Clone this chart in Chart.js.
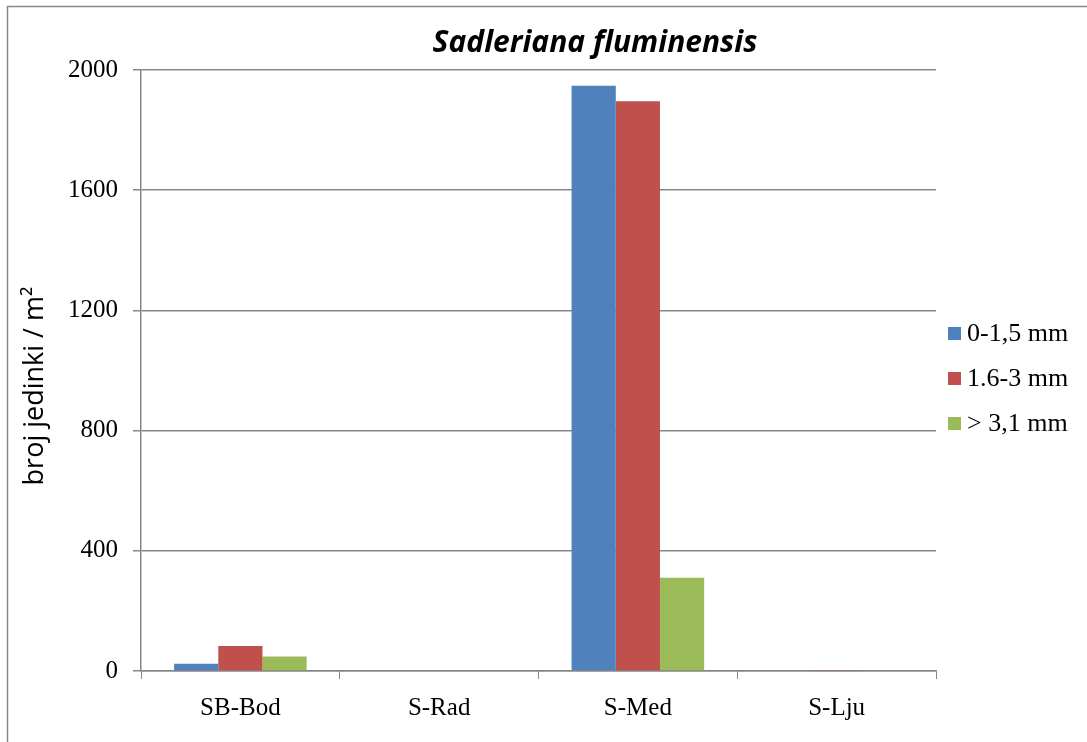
<!DOCTYPE html>
<html lang="hr">
<head>
    <meta charset="UTF-8">
    <title>Sadleriana fluminensis</title>
    <script src="https://cdn.jsdelivr.net/npm/chart.js"></script>
    <style>
        html, body { margin: 0; padding: 0; background: #ffffff; }
        #wrap { width: 1087px; height: 742px; }
    </style>
</head>
<body>
    <div id="wrap">
        <canvas id="barChart" width="1087" height="742"></canvas>
    </div>
<script>
    var chartTitle = 'Sadleriana fluminensis';
    var yTitle = 'broj jedinki / m\u00b2';
    var sites = ['SB-Bod', 'S-Rad', 'S-Med', 'S-Lju'];
    var sizeClasses = ['0-1,5 mm', '1.6-3 mm', '> 3,1 mm'];
    var small = [24, 0, 1948, 0];
    var medium = [83, 0, 1896, 3];
    var large = [48, 0, 310, 0];
    var colors = ['#4F81BD', '#C0504D', '#9BBB59'];
    var yMin = 0, yMax = 2000, yStep = 400;

    var gray = '#868686';

    // frame, italic title, y title and the legend on the right (Excel look)
    var framePlugin = {
        id: 'frame',
        beforeDraw: function (chart) {
            var ctx = chart.ctx;
            ctx.save();
            ctx.fillStyle = '#ffffff';
            ctx.fillRect(0, 0, chart.width, chart.height);
            ctx.strokeStyle = gray;
            ctx.lineWidth = 1.5;
            ctx.strokeRect(7.5, 6.5, chart.width + 20, chart.height + 20);
            ctx.restore();
        },
        afterDraw: function (chart) {
            var ctx = chart.ctx;
            ctx.save();
            ctx.font = 'italic bold 30px "Open Sans"';
            ctx.fillStyle = '#000000';
            ctx.textAlign = 'center';
            ctx.textBaseline = 'alphabetic';
            ctx.fillText(chartTitle, 595, 52);

            // y axis title, a bit below the middle like in Excel
            ctx.save();
            ctx.translate(35, 386);
            ctx.rotate(-Math.PI / 2);
            ctx.font = '27px "Open Sans"';
            ctx.textBaseline = 'middle';
            ctx.fillText(yTitle, 0, 0);
            ctx.restore();

            var area = chart.chartArea;
            var x0 = area.right + 12;
            var yMid = (area.top + area.bottom) / 2 + 8;
            var step = 45;
            var n = chart.data.datasets.length;
            ctx.font = '26px "Liberation Serif"';
            ctx.textAlign = 'left';
            ctx.textBaseline = 'middle';
            chart.data.datasets.forEach(function (ds, i) {
                var cy = yMid + (i - (n - 1) / 2) * step;
                ctx.fillStyle = ds.backgroundColor;
                ctx.fillRect(x0, cy - 6.5, 13, 13);
                ctx.fillStyle = '#000000';
                ctx.fillText(ds.label, x0 + 19, cy + 1);
            });
            ctx.restore();
        }
    };

    var seriesValues = [small, medium, large];
    var datasets = sizeClasses.map(function (name, i) {
        return {
            label: name,
            data: seriesValues[i],
            backgroundColor: colors[i],
            borderWidth: 0,
            categoryPercentage: 0.667,
            barPercentage: 1.0
        };
    });

    new Chart(document.getElementById('barChart').getContext('2d'), {
        type: 'bar',
        data: {
            labels: sites,
            datasets: datasets
        },
        plugins: [framePlugin],
        options: {
            responsive: false,
            animation: false,
            layout: {
                padding: { left: 10, right: 151, top: 70, bottom: 0 }
            },
            scales: {
                x: {
                    grid: {
                        display: true,
                        drawOnChartArea: false,
                        drawTicks: true,
                        tickLength: 8,
                        color: gray,
                        offset: true
                    },
                    border: { color: gray, width: 1.5 },
                    ticks: {
                        color: '#000000',
                        padding: 14,
                        font: { family: 'Liberation Serif', size: 25 }
                    },
                    afterFit: function (scale) { scale.height = 71; }
                },
                y: {
                    min: yMin,
                    max: yMax,
                    ticks: {
                        stepSize: yStep,
                        color: '#000000',
                        padding: 15,
                        font: { family: 'Liberation Serif', size: 25 },
                        callback: function (value) { return String(value); }
                    },
                    grid: {
                        color: gray,
                        lineWidth: 1.5,
                        tickLength: 8
                    },
                    border: { color: gray, width: 1.5 },
                    title: { display: false },
                    afterFit: function (scale) { scale.width = 131; }
                }
            },
            plugins: {
                title: { display: false },
                tooltip: { enabled: false },
                legend: { display: false }
            }
        }
    });
</script>
</body>
</html>
